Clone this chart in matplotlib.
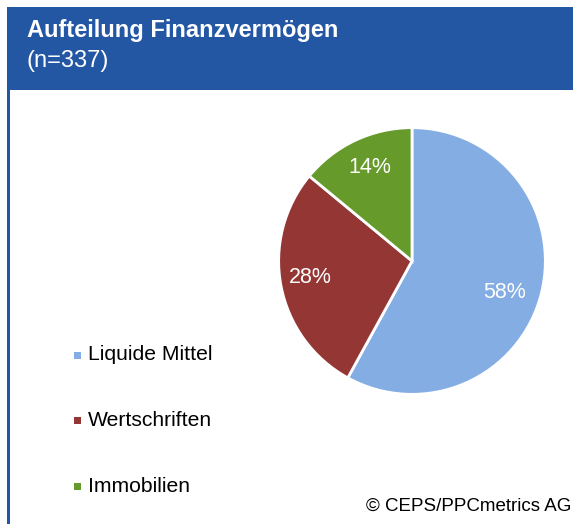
import matplotlib
matplotlib.use("Agg")
import numpy as np
import matplotlib.pyplot as plt
from matplotlib.patches import Rectangle

categories = ["Liquide Mittel", "Wertschriften", "Immobilien"]
values = [58, 28, 14]
colors = ["#83ADE3", "#943634", "#669A2A"]
title = "Aufteilung Finanzvermögen"
subtitle = "(n=337)"
source = "© CEPS/PPCmetrics AG"

plt.rcParams['font.family'] = ['Liberation Sans', 'DejaVu Sans']

W, H = 573, 524
fig = plt.figure(figsize=(W / 100, H / 100), dpi=100)
fig.patch.set_facecolor("white")

def fx(px):
    return px / W

def fy(py):
    return 1 - py / H

# header band
fig.patches.append(Rectangle((fx(7), fy(90)), 1 - fx(7), fy(7) - fy(90),
                             transform=fig.transFigure, facecolor="#2356A3",
                             edgecolor="none", zorder=0))
# left border line
fig.patches.append(Rectangle((fx(7), 0), fx(2.5), fy(90),
                             transform=fig.transFigure, facecolor="#2356A3",
                             edgecolor="none", zorder=0))

fig.text(fx(27), fy(37), title, color="white", fontsize=17, fontweight="bold",
         va="baseline", ha="left")
fig.text(fx(27), fy(67.5), subtitle, color="white", fontsize=17,
         va="baseline", ha="left")

# pie
cx, cy, r = 412, 261, 134
ax = fig.add_axes([fx(cx - r), fy(cy + r), (2 * r) / W, (2 * r) / H])
wedges, texts, autotexts = ax.pie(
    values, colors=colors, startangle=90, counterclock=False,
    autopct=lambda p: f"{p:.0f}%", pctdistance=0.75,
    wedgeprops=dict(edgecolor="white", linewidth=2),
    textprops=dict(color="white", fontsize=15.5))
# fine-tune label placement like the original
dist = [0.73, 0.77, 0.77]
ang_off = [-4.5, -1.5, -1.0]
for w, t, d, o in zip(wedges, autotexts, dist, ang_off):
    mid = np.deg2rad((w.theta1 + w.theta2) / 2 + o)
    t.set_position((d * np.cos(mid), d * np.sin(mid)))
ax.set_xlim(-1.005, 1.005)
ax.set_ylim(-1.005, 1.005)
ax.set_aspect("equal")
ax.axis("off")

# legend
leg_y = [355, 420, 486]
for cat, col, y in zip(categories, colors, leg_y):
    fig.patches.append(Rectangle((fx(74), fy(y + 3.5)), fx(7), fy(0) - fy(7),
                                 transform=fig.transFigure, facecolor=col,
                                 edgecolor="none"))
    fig.text(fx(88), fy(y), cat, color="black", fontsize=15.2,
             va="center", ha="left")

fig.text(fx(571), fy(506), source, color="black", fontsize=13.5,
         va="center", ha="right")

fig.savefig("out.png", dpi=100)
